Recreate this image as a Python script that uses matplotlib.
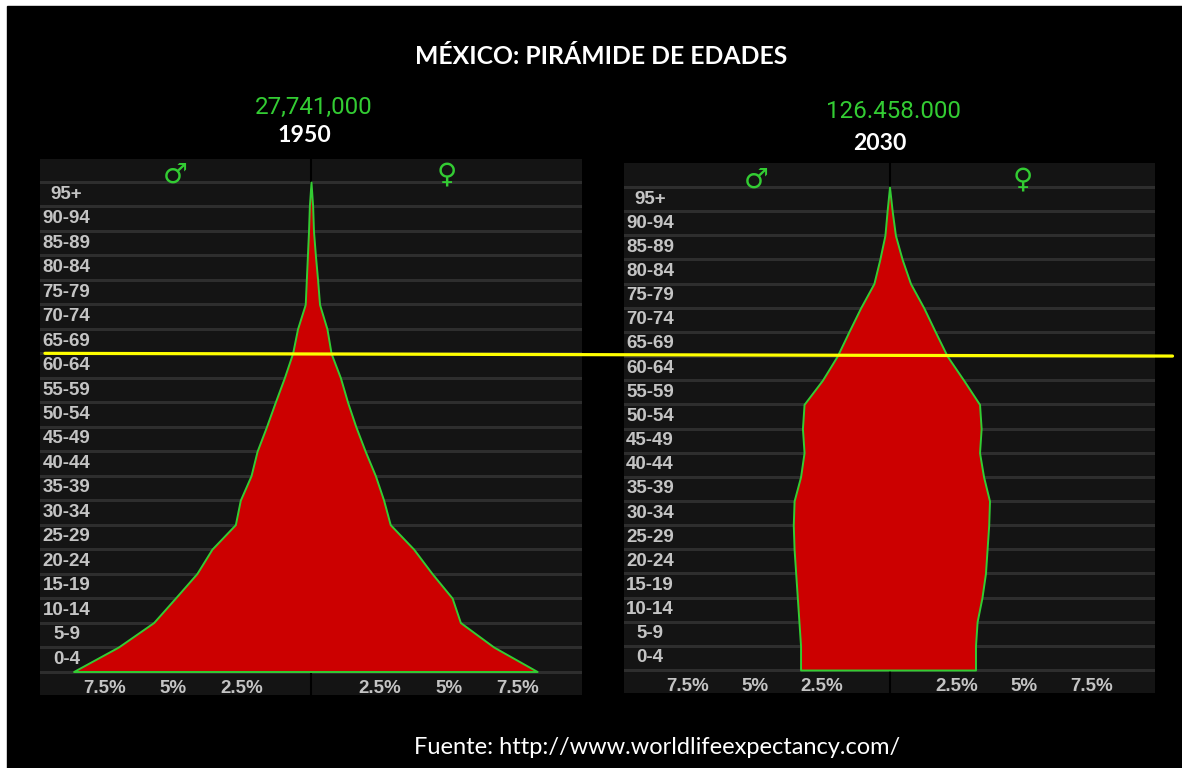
import numpy as np
import matplotlib
matplotlib.use("Agg")
import matplotlib.pyplot as plt
from matplotlib.patches import Rectangle, ConnectionPatch

# age groups, bottom to top
age_groups = ['0-4', '5-9', '10-14', '15-19', '20-24', '25-29', '30-34', '35-39', '40-44',
              '45-49', '50-54', '55-59', '60-64', '65-69', '70-74', '75-79', '80-84',
              '85-89', '90-94', '95+']
age_start = np.arange(0, 100, 5)

# % of total population
male_1950 = [8.63, 7.00, 5.72, 4.93, 4.15, 3.60, 2.75, 2.57, 2.18, 1.96,
             1.62, 1.30, 0.97, 0.67, 0.49, 0.21, 0.17, 0.13, 0.09, 0.06]
female_1950 = [8.22, 6.64, 5.43, 5.13, 4.40, 3.73, 2.88, 2.64, 2.34, 1.97,
               1.63, 1.33, 1.07, 0.73, 0.58, 0.31, 0.24, 0.16, 0.09, 0.06]
male_2030 = [3.30, 3.30, 3.36, 3.42, 3.48, 3.54, 3.57, 3.54, 3.30, 3.17,
             3.23, 3.17, 2.49, 1.94, 1.51, 1.07, 0.58, 0.36, 0.17, 0.09]
female_2030 = [3.19, 3.19, 3.25, 3.43, 3.56, 3.62, 3.68, 3.71, 3.49, 3.34,
               3.40, 3.34, 2.75, 2.14, 1.70, 1.27, 0.78, 0.47, 0.22, 0.10]

tick_values = [-7.5, -5, -2.5, 2.5, 5, 7.5]
tick_labels = ['7.5%', '5%', '2.5%', '2.5%', '5%', '7.5%']
highlight_age = 65

title = 'MÉXICO: PIRÁMIDE DE EDADES'
source = 'Fuente: http://www.worldlifeexpectancy.com/'

RED = '#cc0000'
GREEN = '#33cc33'
PANEL = '#141414'
GRID = '#2e2e2e'
LABEL = '#c4c4c4'

W, H = 1182, 768
fig = plt.figure(figsize=(W / 100, H / 100), dpi=100, facecolor='white')
fig.add_artist(Rectangle((7 / W, 0), 1, 1 - 6 / H, transform=fig.transFigure,
                         color='black', zorder=-10))


def px_axes(x0, y0, x1, y1):
    return fig.add_axes([x0 / W, 1 - y1 / H, (x1 - x0) / W, (y1 - y0) / H])


def draw_pyramid(ax, male, female, ylim):
    ax.set_facecolor(PANEL)
    ax.set_xlim(-9.85, 9.85)
    ax.set_ylim(*ylim)
    for a in range(0, 101, 5):
        ax.axhline(a, color=GRID, lw=2.2, zorder=0.5)
    ax.axvline(0, color='black', lw=1.5, zorder=1)

    y = np.append(age_start, 100)
    m = np.append(male, 0)
    f = np.append(female, 0)
    ax.fill_betweenx(y, -m, f, facecolor=RED, edgecolor=GREEN, lw=1.4, zorder=2)

    for a, lab in zip(age_start, age_groups):
        ax.text(0.049, a + 2.5, lab, transform=ax.get_yaxis_transform(), ha='center',
                va='center', color=LABEL, fontsize=13.5, fontweight='bold',
                family='Liberation Sans', zorder=3)
    for v, lab in zip(tick_values, tick_labels):
        ax.text(v, -3.5, lab, ha='center', va='center', color=LABEL, fontsize=13.5,
                fontweight='bold', family='Liberation Sans')
    ax.text(-4.93, 101.6, '♂', ha='center', va='center', color=GREEN, fontsize=20,
            family='DejaVu Sans')
    ax.text(4.93, 101.6, '♀', ha='center', va='center', color=GREEN, fontsize=20,
            family='DejaVu Sans')
    for s in ax.spines.values():
        s.set_visible(False)
    ax.set_xticks([])
    ax.set_yticks([])


ax1 = px_axes(40, 159, 582, 695)
draw_pyramid(ax1, male_1950, female_1950, (-4.8, 104.7))
ax2 = px_axes(624, 163, 1155, 693)
draw_pyramid(ax2, male_2030, female_2030, (-4.76, 104.97))

# textos
fig.text(601 / W, 1 - 56 / H, title, ha='center', va='center', color='white',
         fontsize=17.8, fontweight='bold', family='Lato')
fig.text(314 / W, 1 - 107 / H, '27,741,000', ha='center', va='center', color=GREEN,
         fontsize=17.4, family='Roboto')
fig.text(304 / W, 1 - 136 / H, '1950', ha='center', va='center', color='white',
         fontsize=16.6, fontweight='bold', family='Lato')
fig.text(893 / W, 1 - 112 / H, '126.458.000', ha='center', va='center', color=GREEN,
         fontsize=17.4, family='Roboto')
fig.text(880 / W, 1 - 143 / H, '2030', ha='center', va='center', color='white',
         fontsize=16.6, fontweight='bold', family='Lato')
fig.text(657 / W, 1 - 748 / H, source, ha='center', va='center', color='white',
         fontsize=17, family='Lato')

# linea amarilla a los 65 años
line = ConnectionPatch((-9.67, highlight_age), (10.5, highlight_age),
                       coordsA=ax1.transData, coordsB=ax2.transData,
                       color='#ffff00', lw=2.3, zorder=20)
fig.add_artist(line)

fig.savefig('out.png', dpi=100, facecolor=fig.get_facecolor())
